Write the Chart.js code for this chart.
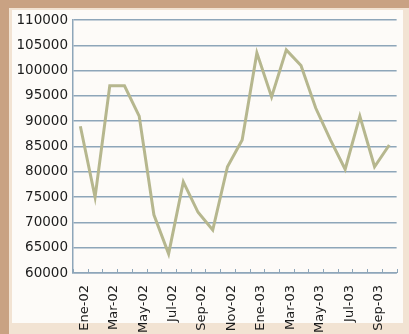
<!DOCTYPE html>
<html>
<head>
<meta charset="utf-8">
<script src="https://cdn.jsdelivr.net/npm/chart.js@4/dist/chart.umd.min.js"></script>
<style>
  html, body { margin: 0; padding: 0; }
  body { width: 409px; height: 334px; position: relative; overflow: hidden; background: #f2e3d3; }
  .strip-top { position: absolute; left: 0; top: 0; width: 409px; height: 8px; background: #c9a283; }
  .strip-left { position: absolute; left: 0; top: 0; width: 9px; height: 334px; background: #c9a283; }
  .panel { position: absolute; left: 12px; top: 10px; width: 391px; height: 313px; background: #fdfbf8; }
  #wrap { position: absolute; left: 0; top: 0; width: 409px; height: 334px; }
</style>
</head>
<body>
<div class="strip-top"></div>
<div class="strip-left"></div>
<div class="panel"></div>
<div id="wrap"><canvas id="c" width="409" height="334"></canvas></div>
<script>
// Monthly series, Ene-02 .. Oct-03
const months = ['Ene-02','Feb-02','Mar-02','Abr-02','May-02','Jun-02','Jul-02','Ago-02','Sep-02','Oct-02','Nov-02','Dic-02',
                'Ene-03','Feb-03','Mar-03','Abr-03','May-03','Jun-03','Jul-03','Ago-03','Sep-03','Oct-03'];
const values = [89000, 75000, 97000, 97000, 91000, 71500, 63800, 78000, 72000, 68500, 81000, 86300,
                103500, 94800, 104100, 101000, 92600, 86300, 80500, 91000, 81000, 85300];
const yTicks = [60000, 65000, 70000, 75000, 80000, 85000, 90000, 95000, 100000, 105000, 110000];

const gridColor = '#8ea6b9';

// short tick marks standing on the category axis, at category boundaries
const innerTicks = {
  id: 'innerTicks',
  afterDatasetsDraw(chart) {
    const x = chart.scales.x, ctx = chart.ctx, bottom = chart.chartArea.bottom;
    const n = chart.data.labels.length;
    const step = x.getPixelForTick(1) - x.getPixelForTick(0);
    ctx.save();
    ctx.strokeStyle = gridColor;
    ctx.lineWidth = 1;
    for (let i = 0; i <= n; i++) {
      const px = Math.round(x.getPixelForTick(0) + (i - 0.5) * step) + 0.5;
      ctx.beginPath();
      ctx.moveTo(px, bottom - 4);
      ctx.lineTo(px, bottom);
      ctx.stroke();
    }
    ctx.restore();
  }
};

new Chart(document.getElementById('c'), {
  type: 'line',
  data: {
    labels: months,
    datasets: [{
      data: values,
      borderColor: '#b6b78e',
      borderWidth: 3,
      pointRadius: 0,
      tension: 0,
      fill: false
    }]
  },
  options: {
    responsive: false,
    animation: false,
    events: [],
    layout: { padding: { left: 0, right: 6, top: 20, bottom: 0 } },
    plugins: { legend: { display: false }, tooltip: { enabled: false } },
    scales: {
      x: {
        type: 'category',
        offset: true,
        grid: { display: false },
        border: { display: true, color: gridColor, width: 1.5 },
        ticks: {
          autoSkip: false,
          minRotation: 90,
          maxRotation: 90,
          padding: 4,
          labelOffset: 4,
          color: '#1c1c1c',
          font: { family: 'DejaVu Sans', size: 13 },
          callback: (v, i) => (i % 2 === 0 ? months[i] : '')
        },
        afterFit: (s) => { s.height = 61; }
      },
      y: {
        min: yTicks[0],
        max: yTicks[yTicks.length - 1],
        afterBuildTicks: (s) => { s.ticks = yTicks.map(v => ({ value: v })); },
        grid: { color: gridColor, lineWidth: 1.5, drawTicks: false },
        border: { display: true, color: gridColor, width: 1.5 },
        ticks: {
          padding: 5,
          color: '#1c1c1c',
          font: { family: 'DejaVu Sans', size: 13.5 },
          callback: (v) => String(v)
        },
        afterFit: (s) => { s.width = 73; }
      }
    }
  },
  plugins: [innerTicks]
});
</script>
</body>
</html>
